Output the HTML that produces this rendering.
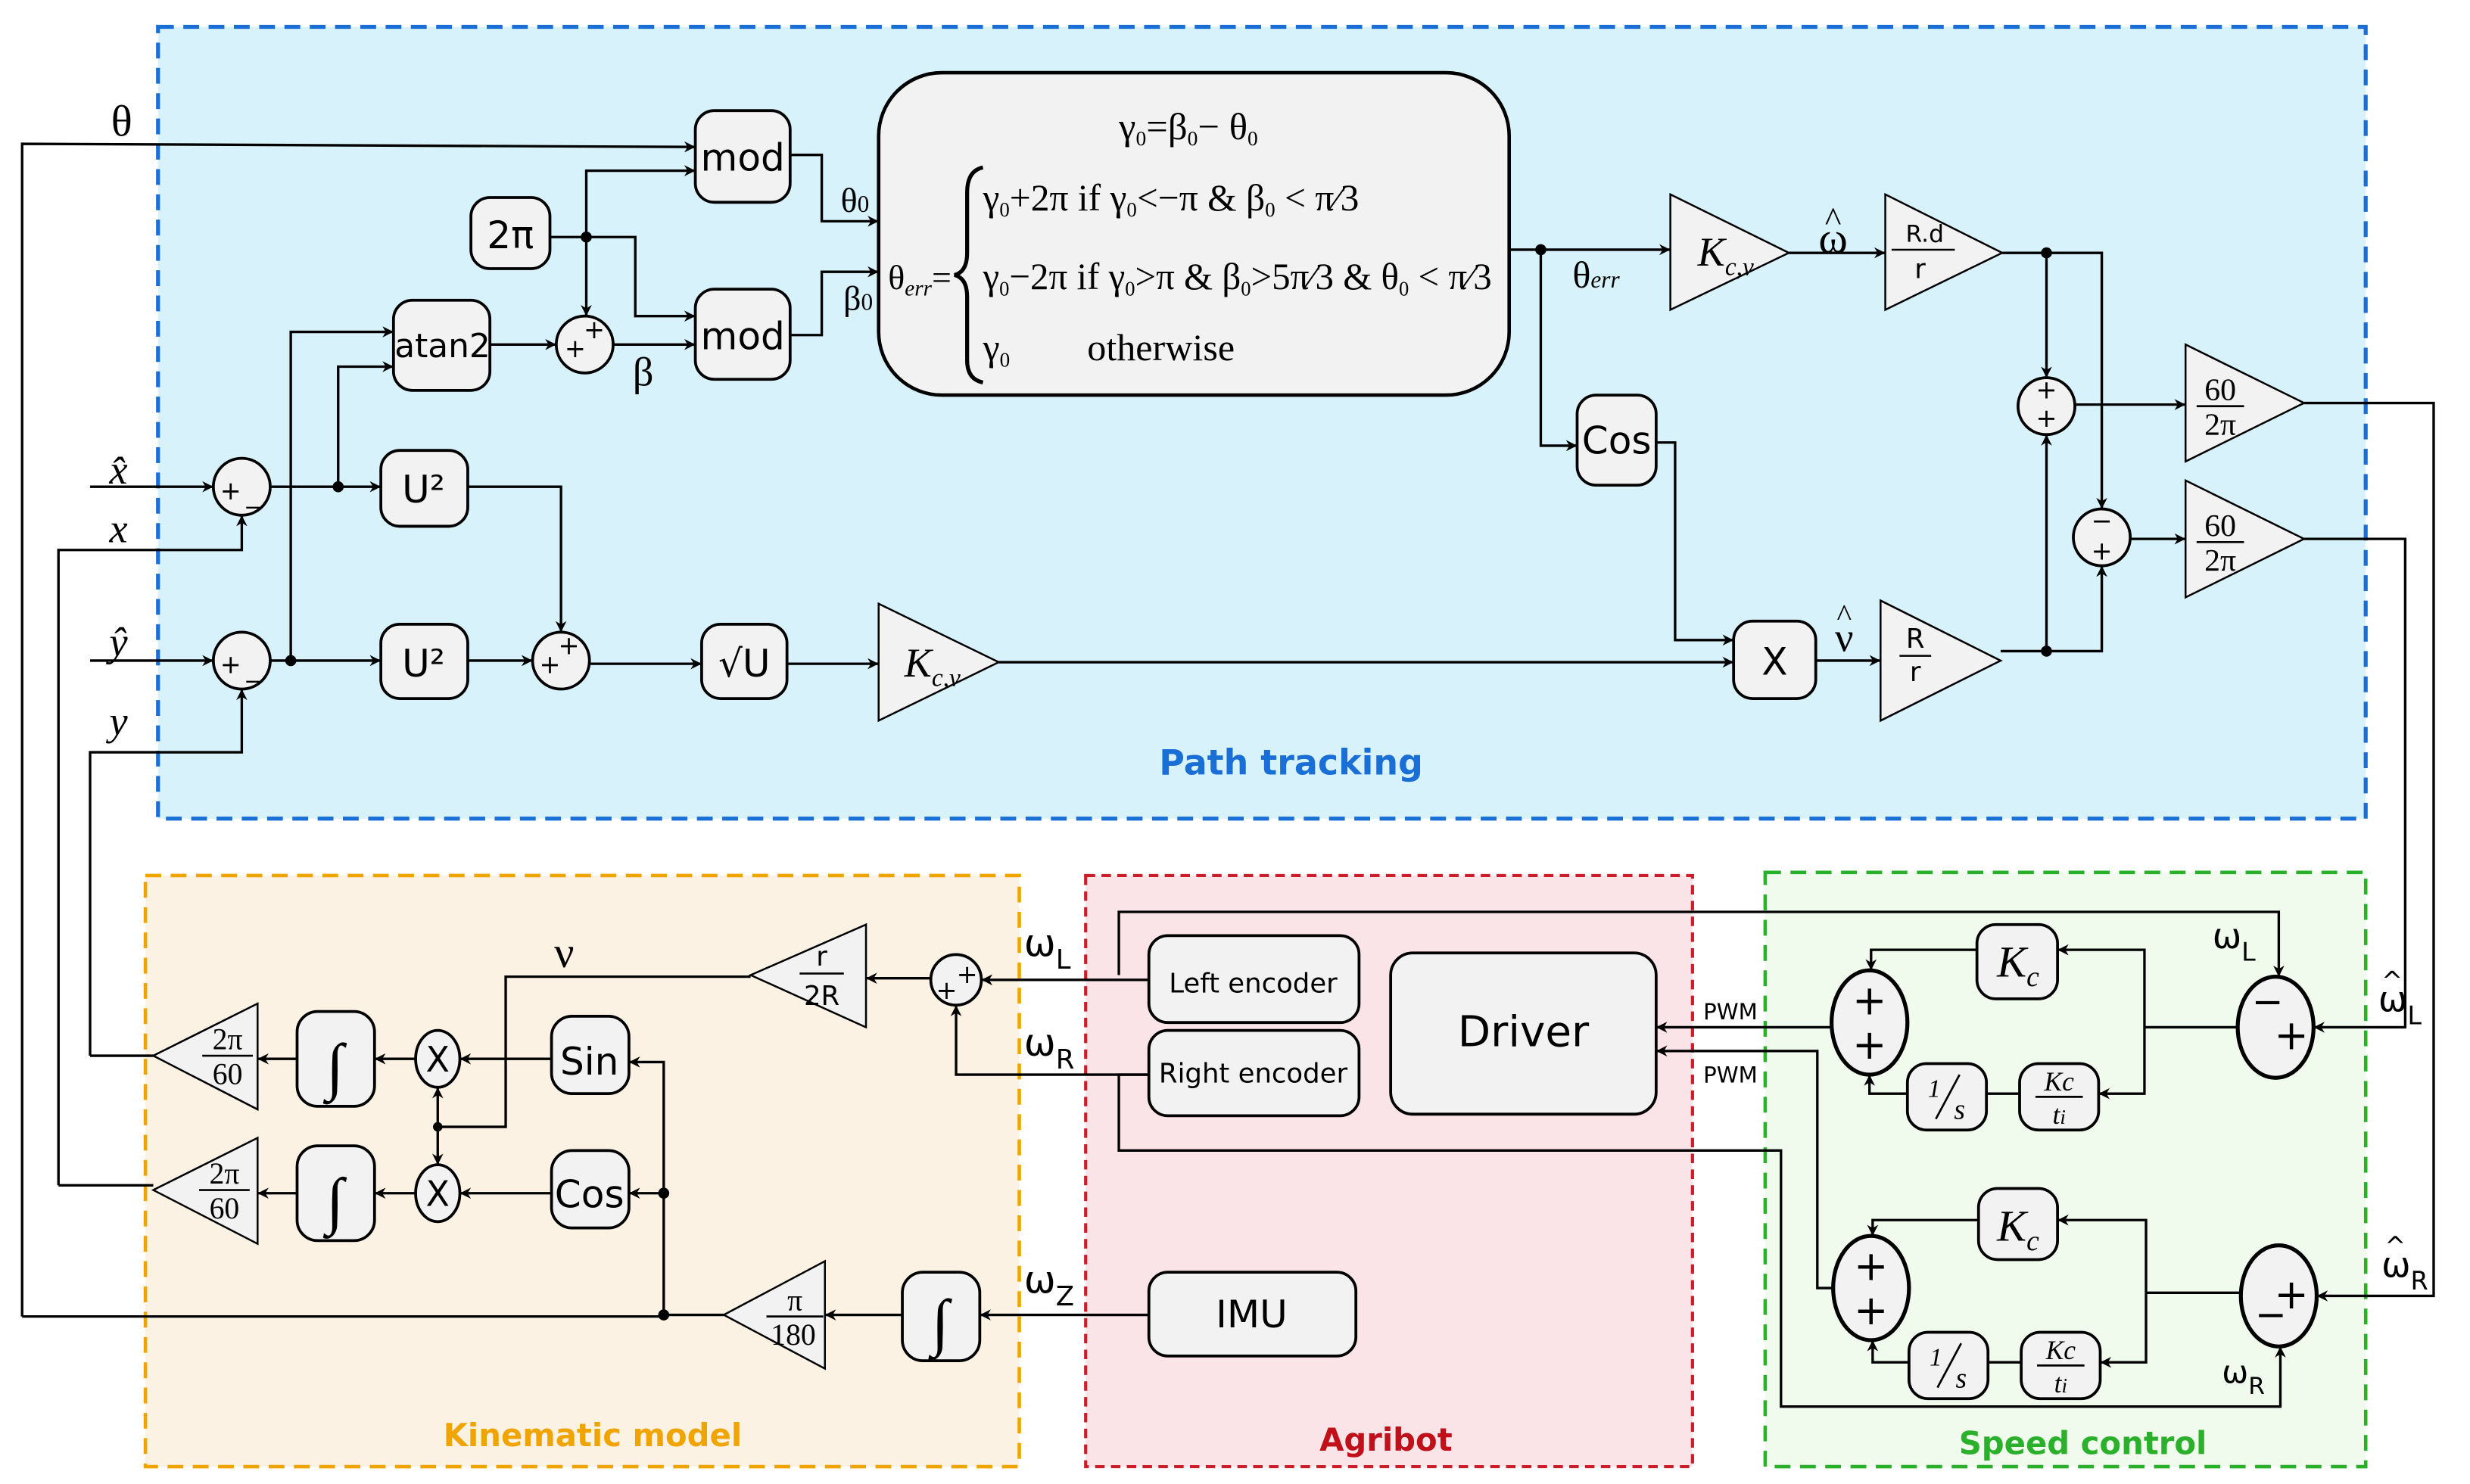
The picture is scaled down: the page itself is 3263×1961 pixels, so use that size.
<!DOCTYPE html>
<html><head><meta charset="utf-8"><style>
html,body{margin:0;padding:0;background:#fff;}
svg{display:block}
.s{font-family:"DejaVu Sans","Liberation Sans",sans-serif;}
.m{font-family:"Liberation Serif",serif;}
</style></head><body>
<svg width="3263" height="1961" viewBox="0 0 1563 939" preserveAspectRatio="none" xmlns="http://www.w3.org/2000/svg">
<defs>
<marker id="a" viewBox="0 0 10 10" refX="10" refY="5" markerWidth="7" markerHeight="7" orient="auto-start-reverse" markerUnits="userSpaceOnUse"><path d="M0,0 L10,5 L0,10 L3,5 z" fill="#000"/></marker>
</defs>
<rect width="1563" height="939" fill="#fff"/>
<rect x="100" y="17" width="1397" height="501" fill="#d7f2fb" stroke="#1a6fd6" stroke-width="2.5" stroke-dasharray="10,6"/>
<rect x="92" y="554" width="553" height="374" fill="#fcf2e4" stroke="#f0a400" stroke-width="2.2" stroke-dasharray="10,6"/>
<rect x="687" y="554" width="384" height="374" fill="#fbe4e7" stroke="#cc1e2a" stroke-width="2" stroke-dasharray="6,4"/>
<rect x="1117" y="552" width="380" height="376" fill="#f1fbed" stroke="#2bb02b" stroke-width="2.2" stroke-dasharray="10,6"/>
<text x="817" y="490" class="s" font-size="22" font-weight="bold" fill="#1a6fd6" text-anchor="middle">Path tracking</text>
<text x="375" y="915" class="s" font-size="20" font-weight="bold" fill="#f0a400" text-anchor="middle">Kinematic model</text>
<text x="877" y="918" class="s" font-size="20" font-weight="bold" fill="#c0101a" text-anchor="middle">Agribot</text>
<text x="1318" y="920" class="s" font-size="20" font-weight="bold" fill="#2bb02b" text-anchor="middle">Speed control</text>

<g fill="#f2f2f2" stroke="#000" stroke-width="1.8">
<rect x="440" y="70" width="60" height="58" rx="12"/>
<rect x="440" y="183" width="60" height="57" rx="12"/>
<rect x="298" y="125" width="50" height="45" rx="12"/>
<rect x="249" y="190" width="61" height="57" rx="12"/>
<rect x="556" y="46" width="399" height="204" rx="40" stroke-width="2.2"/>
<rect x="998" y="250" width="50" height="57" rx="12"/>
<rect x="241" y="285" width="55" height="48" rx="12"/>
<rect x="241" y="395" width="55" height="47" rx="12"/>
<rect x="444" y="395" width="54" height="47" rx="12"/>
<rect x="1097" y="393" width="52" height="49" rx="12"/>
<circle cx="370" cy="218" r="18"/>
<circle cx="153" cy="308" r="18"/>
<circle cx="153" cy="418" r="18"/>
<circle cx="355" cy="418" r="18"/>
<circle cx="1295" cy="257" r="18"/>
<circle cx="1330" cy="340" r="18"/>
<polygon points="1057,123 1057,196 1132,160" stroke-width="1.2"/>
<polygon points="1193,123 1193,196 1267,160" stroke-width="1.2"/>
<polygon points="556,382 556,456 632,419" stroke-width="1.2"/>
<polygon points="1190,380 1190,456 1266,418" stroke-width="1.2"/>
<polygon points="1383,218 1383,292 1458,255" stroke-width="1.2"/>
<polygon points="1383,304 1383,378 1458,341" stroke-width="1.2"/>
<polygon points="548,585 548,650 475,617" stroke-width="1.2"/>
<circle cx="605" cy="620" r="16"/>
<ellipse cx="277" cy="670" rx="14" ry="18"/>
<ellipse cx="277" cy="755" rx="14" ry="18"/>
<rect x="349" y="643" width="49" height="49" rx="13"/>
<rect x="349" y="728" width="49" height="49" rx="13"/>
<rect x="188" y="640" width="49" height="60" rx="13"/>
<rect x="188" y="725" width="49" height="60" rx="13"/>
<polygon points="163,635 163,702 97,668" stroke-width="1.2"/>
<polygon points="163,720 163,787 97,753" stroke-width="1.2"/>
<rect x="571" y="805" width="49" height="56" rx="13"/>
<polygon points="522,798 522,866 458,832" stroke-width="1.2"/>
<rect x="727" y="592" width="133" height="55" rx="12"/>
<rect x="727" y="652" width="133" height="54" rx="12"/>
<rect x="880" y="603" width="168" height="102" rx="14"/>
<rect x="727" y="805" width="131" height="53" rx="12"/>
<ellipse cx="1440" cy="650" rx="24" ry="32" stroke-width="2.5"/>
<ellipse cx="1442" cy="820" rx="24" ry="32" stroke-width="2.5"/>
<ellipse cx="1183" cy="647" rx="24" ry="33" stroke-width="2.5"/>
<ellipse cx="1184" cy="815" rx="24" ry="33" stroke-width="2.5"/>
<rect x="1251" y="585" width="51" height="47" rx="12"/>
<rect x="1252" y="752" width="50" height="45" rx="12"/>
<rect x="1207" y="673" width="50" height="42" rx="12"/>
<rect x="1278" y="673" width="50" height="42" rx="12"/>
<rect x="1208" y="843" width="50" height="42" rx="12"/>
<rect x="1279" y="843" width="50" height="42" rx="12"/>
</g>

<g fill="none" stroke="#000" stroke-width="1.6">
<polyline points="14,833 14,91 440,93" marker-end="url(#a)"/>
<line x1="420" y1="833" x2="14" y2="833"/>
<line x1="57" y1="308" x2="135" y2="308" marker-end="url(#a)"/>
<polyline points="37,750 37,348 153,348 153,326" marker-end="url(#a)"/>
<line x1="37" y1="750" x2="97" y2="750"/>
<line x1="57" y1="418" x2="135" y2="418" marker-end="url(#a)"/>
<polyline points="57,668 57,476 153,476 153,436" marker-end="url(#a)"/>
<line x1="57" y1="668" x2="97" y2="668"/>
<line x1="171" y1="308" x2="241" y2="308" marker-end="url(#a)"/>
<polyline points="214,308 214,232 249,232" marker-end="url(#a)"/>
<line x1="171" y1="418" x2="241" y2="418" marker-end="url(#a)"/>
<polyline points="184,418 184,210 249,210" marker-end="url(#a)"/>
<polyline points="296,308 355,308 355,400" marker-end="url(#a)"/>
<line x1="296" y1="418" x2="337" y2="418" marker-end="url(#a)"/>
<line x1="373" y1="420" x2="444" y2="420" marker-end="url(#a)"/>
<line x1="498" y1="420" x2="556" y2="420" marker-end="url(#a)"/>
<line x1="632" y1="419" x2="1097" y2="419" marker-end="url(#a)"/>
<line x1="348" y1="150" x2="371" y2="150"/>
<polyline points="371,150 371,108 440,108" marker-end="url(#a)"/>
<line x1="371" y1="150" x2="371" y2="200" marker-end="url(#a)"/>
<polyline points="371,150 402,150 402,200 440,200" marker-end="url(#a)"/>
<line x1="310" y1="218" x2="352" y2="218" marker-end="url(#a)"/>
<line x1="388" y1="218" x2="440" y2="218" marker-end="url(#a)"/>
<polyline points="500,98 520,98 520,140 556,140" marker-end="url(#a)"/>
<polyline points="500,212 520,212 520,172 556,172" marker-end="url(#a)"/>
<line x1="955" y1="158" x2="1057" y2="158" marker-end="url(#a)"/>
<polyline points="975,158 975,282 998,282" marker-end="url(#a)"/>
<polyline points="1048,280 1060,280 1060,405 1097,405" marker-end="url(#a)"/>
<line x1="1149" y1="418" x2="1190" y2="418" marker-end="url(#a)"/>
<line x1="1132" y1="160" x2="1193" y2="160" marker-end="url(#a)"/>
<polyline points="1267,160 1330,160 1330,322" marker-end="url(#a)"/>
<line x1="1295" y1="160" x2="1295" y2="239" marker-end="url(#a)"/>
<polyline points="1266,412 1330,412 1330,358" marker-end="url(#a)"/>
<line x1="1295" y1="412" x2="1295" y2="275" marker-end="url(#a)"/>
<line x1="1313" y1="256" x2="1383" y2="256" marker-end="url(#a)"/>
<line x1="1348" y1="341" x2="1383" y2="341" marker-end="url(#a)"/>
<polyline points="1458,255 1540,255 1540,820 1466,820" marker-end="url(#a)"/>
<polyline points="1458,341 1522,341 1522,650 1464,650" marker-end="url(#a)"/>
<polyline points="708,617 708,577 1442,577 1442,618" marker-end="url(#a)"/>
<polyline points="727,680 708,680 708,728 1127,728 1127,890 1443,890 1443,852" marker-end="url(#a)"/>
<line x1="1416" y1="650" x2="1357" y2="650"/>
<polyline points="1357,650 1357,601 1302,601" marker-end="url(#a)"/>
<polyline points="1357,650 1357,692 1328,692" marker-end="url(#a)"/>
<polyline points="1251,601 1184,601 1184,614" marker-end="url(#a)"/>
<polyline points="1207,692 1183,692 1183,680" marker-end="url(#a)"/>
<line x1="1257" y1="692" x2="1278" y2="692"/>
<line x1="1418" y1="818" x2="1358" y2="818"/>
<polyline points="1358,818 1358,772 1302,772" marker-end="url(#a)"/>
<polyline points="1358,818 1358,862 1329,862" marker-end="url(#a)"/>
<polyline points="1252,772 1185,772 1185,782" marker-end="url(#a)"/>
<polyline points="1208,862 1185,862 1185,848" marker-end="url(#a)"/>
<line x1="1258" y1="862" x2="1279" y2="862"/>
<line x1="1159" y1="650" x2="1048" y2="650" marker-end="url(#a)"/>
<polyline points="1160,815 1150,815 1150,665 1048,665" marker-end="url(#a)"/>
<line x1="727" y1="620" x2="621" y2="620" marker-end="url(#a)"/>
<polyline points="727,680 605,680 605,636" marker-end="url(#a)"/>
<line x1="589" y1="619" x2="548" y2="619" marker-end="url(#a)"/>
<polyline points="475,618 320,618 320,713 277,713"/>
<line x1="277" y1="713" x2="277" y2="688" marker-end="url(#a)"/>
<line x1="277" y1="713" x2="277" y2="737" marker-end="url(#a)"/>
<line x1="349" y1="670" x2="291" y2="670" marker-end="url(#a)"/>
<line x1="349" y1="755" x2="291" y2="755" marker-end="url(#a)"/>
<line x1="263" y1="670" x2="237" y2="670" marker-end="url(#a)"/>
<line x1="263" y1="755" x2="237" y2="755" marker-end="url(#a)"/>
<line x1="188" y1="670" x2="163" y2="670" marker-end="url(#a)"/>
<line x1="188" y1="755" x2="163" y2="755" marker-end="url(#a)"/>
<line x1="727" y1="832" x2="620" y2="832" marker-end="url(#a)"/>
<line x1="571" y1="832" x2="522" y2="832" marker-end="url(#a)"/>
<polyline points="458,832 420,832 420,672 398,672" marker-end="url(#a)"/>
<line x1="420" y1="755" x2="398" y2="755" marker-end="url(#a)"/>
<!-- brace -->
<path d="M622,106 Q612,108 612,122 L612,160 Q612,172 604,174 Q612,176 612,188 L612,228 Q612,240 622,242" stroke-width="2.5"/>
</g>
<g fill="#000">
<circle cx="371" cy="150" r="3.5"/><circle cx="214" cy="308" r="3.5"/><circle cx="184" cy="418" r="3.5"/>
<circle cx="975" cy="158" r="3.5"/><circle cx="1295" cy="160" r="3.5"/><circle cx="1295" cy="412" r="3.5"/>
<circle cx="420" cy="832" r="3.5"/><circle cx="420" cy="755" r="3.5"/><circle cx="277" cy="713" r="3"/>
</g>

<g class="s" font-size="24" text-anchor="middle" fill="#000">
<text x="470" y="108">mod</text><text x="470" y="221">mod</text>
<text x="323" y="157">2π</text><text x="280" y="226" font-size="21">atan2</text>
<text x="1023" y="287">Cos</text><text x="268" y="318">U²</text><text x="268" y="428">U²</text>
<text x="471" y="428">√U</text><text x="1123" y="427">X</text>
<text x="373" y="680">Sin</text><text x="373" y="764">Cos</text>
<text x="277" y="678" font-size="22">X</text><text x="277" y="763" font-size="22">X</text>
<text x="793" y="628" font-size="17">Left encoder</text>
<text x="793" y="685" font-size="17">Right encoder</text>
<text x="964" y="662" font-size="27">Driver</text>
<text x="792" y="840">IMU</text>
<text x="1095" y="645" font-size="14">PWM</text><text x="1095" y="685" font-size="14">PWM</text>
</g>
<g class="m" fill="#000" text-anchor="middle">
<text x="77" y="86" font-size="28">θ</text>
<text x="75" y="306" font-size="26" font-style="italic">x̂</text>
<text x="75" y="343" font-size="26" font-style="italic">x</text>
<text x="75" y="415" font-size="26" font-style="italic">ŷ</text>
<text x="75" y="465" font-size="26" font-style="italic">y</text>
<text x="407" y="244" font-size="26">β</text>
<text x="541" y="134" font-size="22">θ<tspan font-size="15">0</tspan></text>
<text x="543" y="196" font-size="22">β<tspan font-size="15">0</tspan></text>
<text x="1010" y="182" font-size="24">θ<tspan font-size="15" font-style="italic">err</tspan></text>
<text x="1160" y="160" font-size="28">ω</text><text x="1160" y="146" font-size="22">^</text>
<text x="1167" y="412" font-size="26">ν</text><text x="1167" y="396" font-size="20">^</text>
<text x="357" y="612" font-size="28">ν</text>
<text x="1092" y="168" font-size="26" font-style="italic">K<tspan font-size="16" dy="6">c,v</tspan></text>
<text x="590" y="428" font-size="26" font-style="italic">K<tspan font-size="16" dy="6">c,v</tspan></text>
<text x="1218" y="153" font-size="15" class="s">R.d</text><line x1="1197" y1="158" x2="1237" y2="158" stroke="#000" stroke-width="1.2"/><text x="1215" y="176" font-size="17" class="s">r</text>
<text x="1212" y="410" font-size="17" class="s">R</text><line x1="1202" y1="415" x2="1222" y2="415" stroke="#000" stroke-width="1.2"/><text x="1212" y="431" font-size="17" class="s">r</text>
<text x="1405" y="253" font-size="20">60</text><line x1="1390" y1="257" x2="1420" y2="257" stroke="#000" stroke-width="1.3"/><text x="1405" y="275" font-size="20">2π</text>
<text x="1405" y="339" font-size="20">60</text><line x1="1390" y1="343" x2="1420" y2="343" stroke="#000" stroke-width="1.3"/><text x="1405" y="361" font-size="20">2π</text>
<text x="520" y="611" font-size="17" class="s">r</text><line x1="506" y1="616" x2="534" y2="616" stroke="#000" stroke-width="1.3"/><text x="520" y="636" font-size="17" class="s">2R</text>
<text x="144" y="664" font-size="19">2π</text><line x1="128" y1="668" x2="160" y2="668" stroke="#000" stroke-width="1.3"/><text x="144" y="686" font-size="19">60</text>
<text x="142" y="749" font-size="19">2π</text><line x1="126" y1="753" x2="158" y2="753" stroke="#000" stroke-width="1.3"/><text x="142" y="771" font-size="19">60</text>
<text x="503" y="829" font-size="19">π</text><line x1="485" y1="833" x2="521" y2="833" stroke="#000" stroke-width="1.3"/><text x="502" y="851" font-size="19">180</text>
<text x="212" y="688" font-size="40">∫</text><text x="212" y="773" font-size="40">∫</text><text x="595" y="850" font-size="40">∫</text>
<text x="1277" y="618" font-size="28" font-style="italic">K<tspan font-size="18" dy="6">c</tspan></text>
<text x="1277" y="785" font-size="28" font-style="italic">K<tspan font-size="18" dy="6">c</tspan></text>
<text x="1303" y="690" font-size="17" font-style="italic">Kc</text><line x1="1288" y1="694" x2="1318" y2="694" stroke="#000" stroke-width="1.3"/><text x="1303" y="711" font-size="17" font-style="italic">t<tspan font-size="13">i</tspan></text>
<text x="1304" y="860" font-size="17" font-style="italic">Kc</text><line x1="1289" y1="864" x2="1319" y2="864" stroke="#000" stroke-width="1.3"/><text x="1304" y="881" font-size="17" font-style="italic">t<tspan font-size="13">i</tspan></text>
<line x1="1225" y1="708" x2="1240" y2="680" stroke="#000" stroke-width="1.3"/><text x="1224" y="694" font-size="16" font-style="italic">1</text><text x="1240" y="708" font-size="18" font-style="italic">s</text>
<line x1="1226" y1="878" x2="1241" y2="850" stroke="#000" stroke-width="1.3"/><text x="1225" y="864" font-size="16" font-style="italic">1</text><text x="1241" y="878" font-size="18" font-style="italic">s</text>
</g>
<g class="s" fill="#000" font-size="24">
<text x="648" y="605">ω<tspan font-size="17" dy="8">L</tspan></text>
<text x="648" y="668">ω<tspan font-size="17" dy="8">R</tspan></text>
<text x="648" y="818">ω<tspan font-size="17" dy="8">Z</tspan></text>
<text x="1400" y="600" font-size="22">ω<tspan font-size="16" dy="8">L</tspan></text>
<text x="1406" y="875" font-size="20">ω<tspan font-size="15" dy="7">R</tspan></text>
<text x="1505" y="640" font-size="22">ω<tspan font-size="16" dy="8">L</tspan></text><text x="1507" y="626" font-size="16">^</text>
<text x="1507" y="808" font-size="22">ω<tspan font-size="16" dy="8">R</tspan></text><text x="1509" y="794" font-size="16">^</text>
</g>
<!-- theta box math -->
<g class="m" fill="#000" font-size="24">
<text x="708" y="88" textLength="88" lengthAdjust="spacingAndGlyphs">γ<tspan font-size="13" dy="4">0</tspan><tspan dy="-4">=β</tspan><tspan font-size="13" dy="4">0</tspan><tspan dy="-4">− θ</tspan><tspan font-size="13" dy="4">0</tspan></text>
<text x="562" y="183" font-size="22">θ<tspan font-size="14" font-style="italic" dy="4">err</tspan><tspan dy="-4">=</tspan></text>
<text x="622" y="133" textLength="238" lengthAdjust="spacingAndGlyphs">γ<tspan font-size="13" dy="4">0</tspan><tspan dy="-4">+2π  if  γ</tspan><tspan font-size="13" dy="4">0</tspan><tspan dy="-4">&lt;−π  &amp;  β</tspan><tspan font-size="13" dy="4">0</tspan><tspan dy="-4"> &lt; π⁄3</tspan></text>
<text x="622" y="183" textLength="322" lengthAdjust="spacingAndGlyphs">γ<tspan font-size="13" dy="4">0</tspan><tspan dy="-4">−2π  if  γ</tspan><tspan font-size="13" dy="4">0</tspan><tspan dy="-4">&gt;π &amp; β</tspan><tspan font-size="13" dy="4">0</tspan><tspan dy="-4">&gt;5π⁄3 &amp; θ</tspan><tspan font-size="13" dy="4">0</tspan><tspan dy="-4"> &lt; π⁄3</tspan></text>
<text x="622" y="228">γ<tspan font-size="13" dy="4">0</tspan><tspan dy="-4" x="688">otherwise</tspan></text>
</g>
<g class="s" fill="#000" font-size="16" text-anchor="middle">
<text x="146" y="316">+</text><text x="160" y="318">_</text>
<text x="146" y="426">+</text><text x="160" y="428">_</text>
<text x="364" y="226">+</text><text x="376" y="214">+</text>
<text x="348" y="426">+</text><text x="360" y="414">+</text>
<text x="1295" y="252">+</text><text x="1295" y="270">+</text>
<text x="1330" y="335">−</text><text x="1330" y="354">+</text>
<text x="599" y="632">+</text><text x="612" y="622">+</text>
<text x="1183" y="642" font-size="26">+</text><text x="1183" y="670" font-size="26">+</text>
<text x="1184" y="810" font-size="26">+</text><text x="1184" y="838" font-size="26">+</text>
<text x="1435" y="642" font-size="24">−</text><text x="1450" y="664" font-size="26">+</text>
<text x="1450" y="828" font-size="26">+</text><text x="1437" y="840" font-size="24">−</text>
</g>
</svg>
</body></html>
